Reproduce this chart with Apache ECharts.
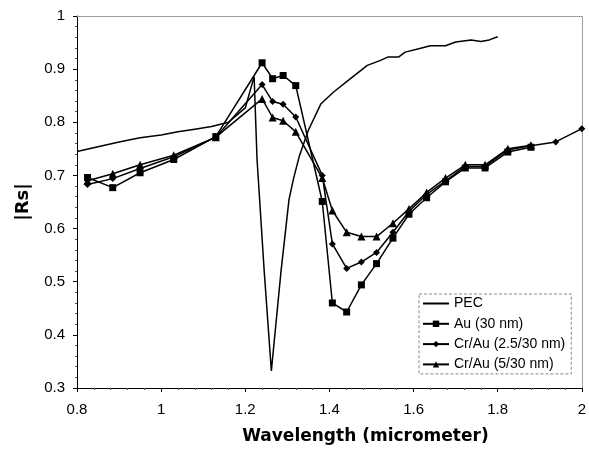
<!DOCTYPE html>
<html>
<head>
<meta charset="utf-8">
<script src="https://cdn.jsdelivr.net/npm/echarts@6/dist/echarts.min.js"></script>
<style>
html, body { margin: 0; padding: 0; background: #fff; }
#chart { width: 589px; height: 450px; }
</style>
</head>
<body>
<div id="chart"></div>
<script>
// wavelength samples (micrometer)
var pecX = [0.8, 0.9, 0.95, 1.0, 1.04, 1.08, 1.12, 1.16, 1.2, 1.221, 1.228, 1.245, 1.262, 1.285, 1.304, 1.315, 1.328,
    1.35, 1.38, 1.41, 1.45, 1.49, 1.52, 1.54, 1.565, 1.58, 1.61, 1.64, 1.676, 1.70, 1.737, 1.76, 1.78, 1.80];
var pecY = [0.745, 0.763, 0.771, 0.776, 0.782, 0.787, 0.792, 0.80, 0.827, 0.886, 0.73, 0.52, 0.332, 0.52, 0.655, 0.695, 0.735,
    0.785, 0.835, 0.857, 0.882, 0.907, 0.916, 0.923, 0.923, 0.932, 0.938, 0.944, 0.944, 0.951, 0.955, 0.952, 0.955, 0.961];

var metalX = [0.825, 0.885, 0.95, 1.03, 1.13, 1.24, 1.265, 1.29, 1.32, 1.383, 1.407, 1.441, 1.476, 1.512, 1.551,
    1.589, 1.631, 1.676, 1.723, 1.77, 1.824, 1.879, 1.938, 2.0];
var auY = [0.696, 0.677, 0.705, 0.730, 0.773, 0.912, 0.882, 0.888, 0.869, 0.651, 0.460, 0.443, 0.494, 0.534, 0.582,
    0.627, 0.658, 0.688, 0.714, 0.714, 0.744, 0.753];
var cr25Y = [0.683, 0.694, 0.713, 0.735, 0.772, 0.871, 0.839, 0.834, 0.810, 0.700, 0.571, 0.525, 0.537, 0.555, 0.593,
    0.632, 0.664, 0.690, 0.717, 0.717, 0.748, 0.756, 0.763, 0.788];
var cr5Y = [0.690, 0.703, 0.720, 0.738, 0.772, 0.844, 0.809, 0.803, 0.782, 0.695, 0.634, 0.593, 0.585, 0.585, 0.610,
    0.637, 0.668, 0.695, 0.720, 0.720, 0.750, 0.757];

var names = ["PEC", "Au (30 nm)", "Cr/Au (2.5/30 nm)", "Cr/Au (5/30 nm)"];

function pairs(xs, ys) {
    var out = [];
    for (var i = 0; i < ys.length; i++) {
        out.push([xs[i], ys[i]]);
    }
    return out;
}

var labelFont = "'Liberation Sans', Arial, sans-serif";

function metalSeries(name, symbol, ys) {
    return {
        name: name,
        type: "line",
        data: pairs(metalX, ys),
        symbol: symbol,
        symbolSize: symbol == "triangle" ? 8 : 7,
        itemStyle: { color: "#000" },
        lineStyle: { color: "#000", width: 1.5 }
    };
}

var chart = echarts.init(document.getElementById("chart"));
var option = {
    animation: false,
    backgroundColor: "#fff",
    grid: { left: 77, right: 5, top: 16, bottom: 61 },
    legend: {
        // PEC has no marker, so hide the legend symbol and keep the line
        data: [{ name: names[0], itemStyle: { opacity: 0 } }, names[1], names[2], names[3]],
        orient: "vertical",
        left: 419,
        top: 294,
        padding: [2, 6, 2, 3],
        itemWidth: 26,
        itemHeight: 8,
        itemGap: 5.3,
        backgroundColor: "#fff",
        borderColor: "#888",
        borderWidth: 1,
        borderType: [3, 2],
        textStyle: { color: "#000", fontSize: 14, lineHeight: 15, fontFamily: labelFont }
    },
    xAxis: [{
        type: "value",
        min: 0.8,
        max: 2,
        interval: 0.2,
        name: "Wavelength (micrometer)",
        nameLocation: "middle",
        nameGap: 40,
        nameTextStyle: {
            color: "#000", fontSize: 17, fontWeight: "bold",
            fontFamily: "'DejaVu Sans', sans-serif", padding: [0, 0, 0, 72]
        },
        axisLine: { lineStyle: { color: "#000", width: 1 } },
        axisTick: { length: 4, lineStyle: { color: "#000" } },
        minorTick: { show: true, splitNumber: 5, length: 2, lineStyle: { color: "#555" } },
        axisLabel: { color: "#000", fontSize: 15, fontFamily: labelFont, margin: 14 },
        splitLine: { show: false }
    }, {
        type: "value",
        position: "top",
        min: 0.8,
        max: 2,
        axisLine: { show: true, lineStyle: { color: "#888", type: "dotted" } },
        axisTick: { show: false },
        axisLabel: { show: false },
        splitLine: { show: false }
    }],
    yAxis: [{
        type: "value",
        min: 0.3,
        max: 1,
        interval: 0.1,
        name: "|Rs|",
        nameLocation: "middle",
        nameGap: 45,
        nameTextStyle: { color: "#000", fontSize: 18, fontWeight: "bold", fontFamily: "'DejaVu Sans', sans-serif" },
        axisLine: { show: true, lineStyle: { color: "#000", width: 1 } },
        axisTick: { show: true, length: 4, lineStyle: { color: "#000" } },
        minorTick: { show: true, splitNumber: 5, length: 2, lineStyle: { color: "#555" } },
        axisLabel: { color: "#000", fontSize: 15, fontFamily: labelFont, margin: 12 },
        splitLine: { show: false }
    }, {
        type: "value",
        position: "right",
        min: 0.3,
        max: 1,
        axisLine: { show: true, lineStyle: { color: "#888", type: "dotted" } },
        axisTick: { show: false },
        axisLabel: { show: false },
        splitLine: { show: false }
    }],
    series: [
        {
            name: names[0],
            type: "line",
            data: pairs(pecX, pecY),
            showSymbol: false,
            symbol: "none",
            itemStyle: { color: "#000" },
            lineStyle: { color: "#000", width: 1.5 }
        },
        metalSeries(names[1], "rect", auY),
        metalSeries(names[2], "diamond", cr25Y),
        metalSeries(names[3], "triangle", cr5Y)
    ]
};
chart.setOption(option);
</script>
</body>
</html>
